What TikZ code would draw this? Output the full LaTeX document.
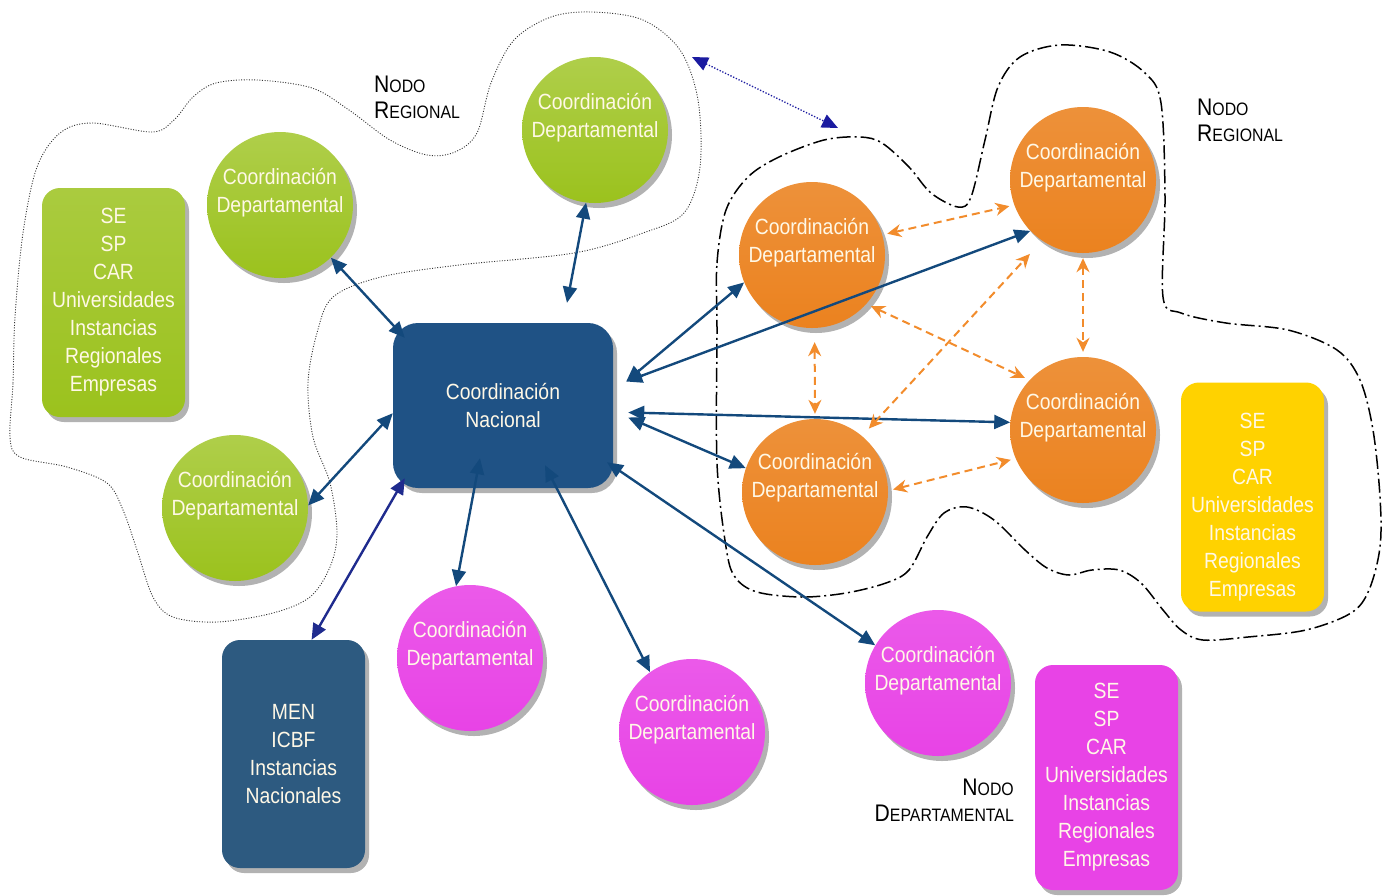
\documentclass[tikz,border=0pt]{standalone}
\usepackage{fontspec}
\setmainfont{Liberation Sans}[FakeStretch=0.88]
\usetikzlibrary{arrows.meta,shadows}

\definecolor{verde}{HTML}{9BC21D}
\definecolor{naranja}{HTML}{EB821F}
\definecolor{fucsia}{HTML}{E843E6}
\definecolor{azul}{HTML}{1F5285}
\definecolor{azulmen}{HTML}{2D5A80}
\definecolor{amarillo}{HTML}{FFD200}
\definecolor{flecha}{HTML}{13497C}
\definecolor{indigo}{HTML}{1F2B8E}
\definecolor{punteada}{HTML}{1B1BA0}
\definecolor{naranjaflecha}{HTML}{F28C2C}
\definecolor{texto}{HTML}{FFF8E6}

\newcommand{\fakesc}[2]{{\fontsize{24}{26}\selectfont #1}{\fontsize{18}{26}\selectfont #2}}

\begin{document}
\begin{tikzpicture}[x=1pt,y=-1pt,
  sombra/.style={drop shadow={shadow xshift=4pt,shadow yshift=-5pt,opacity=0.3,fill=black}},
  circ/.style={circle,minimum size=146pt,inner sep=0pt,sombra},
  gcirc/.style={circ,top color=verde!80!white,bottom color=verde},
  ocirc/.style={circ,top color=naranja!88!white,bottom color=naranja},
  mcirc/.style={circ,top color=fucsia!88!white,bottom color=fucsia},
  ctxt/.style={align=center,text=texto,font=\fontsize{22}{28}\selectfont},
  caja/.style={rounded corners=18pt,minimum width=143pt,minimum height=229pt,sombra,
    align=center,text=texto,font=\fontsize{22}{28}\selectfont},
  nodo/.style={text=black,inner sep=0pt,font=\fontsize{24}{26}\selectfont},
  rel/.style={draw=flecha,line width=2.4pt,
    arrows={Triangle[length=16pt,width=14pt]-Triangle[length=16pt,width=14pt]}},
  relo/.style={draw=naranjaflecha,line width=2pt,dash pattern=on 8pt off 5pt,
    shorten <=5pt,shorten >=5pt,
    arrows={Stealth[length=14pt,width=13pt]-Stealth[length=14pt,width=13pt]}},
  regdot/.style={draw=black!80,line width=0.9pt,dash pattern=on 1pt off 1.6pt},
  regdash/.style={draw=black,line width=1.5pt,dash pattern=on 14pt off 4pt on 2pt off 4pt}]

\useasboundingbox (0,0) rectangle (1392,895);

% Regions
\draw[regdot] plot[smooth cycle,tension=0.55] coordinates {(10,437) (13,383) (15,317) (23,233) (37,167)
  (60,133) (92,123) (152,132) (174,120) (193,97) (216,83) (257,80) (312,88) (349,110) (390,140)
  (427,155) (455,152) (477,133) (491,83) (514,40) (551,17) (592,12) (643,20) (680,50) (698,100)
  (700,167) (684,213) (643,233) (574,253) (459,265) (381,277) (333,297) (317,333) (308,383)
  (313,437) (330,483) (337,533) (330,567) (310,597) (273,613) (217,622) (173,617) (153,597)
  (137,550) (123,510) (107,483) (67,467) (20,457)};
\draw[regdash] plot[smooth cycle,tension=0.55] coordinates {(717,330) (717,263) (726,210) (748,177)
  (779,157) (824,140) (860,137) (882,143) (909,167) (931,193) (958,207) (971,197) (985,140)
  (998,87) (1020,57) (1060,45) (1110,52) (1145,73) (1161,103) (1165,197) (1163,297) (1181,313)
  (1226,323) (1288,330) (1337,350) (1360,380) (1373,430) (1380,497) (1380,547) (1369,590)
  (1351,613) (1306,630) (1248,637) (1203,640) (1181,630) (1163,610) (1141,583) (1119,570)
  (1092,570) (1069,575) (1047,568) (1025,550) (994,520) (967,507) (944,513) (927,537) (909,570)
  (886,583) (846,593) (802,597) (757,592) (735,577) (726,547) (717,463)};

% Boxes
\node[caja,top color=verde!85!white,bottom color=verde] (verdebox) at (113.5,302.5)
  {SE\\SP\\CAR\\Universidades\\Instancias\\Regionales\\Empresas};
\node[caja,fill=amarillo] (amabox) at (1252.5,497) {};
\node[ctxt] (amat) at ([yshift=-10pt]amabox.center)
  {SE\\SP\\CAR\\Universidades\\Instancias\\Regionales\\Empresas};
\node[caja,fill=fucsia,minimum height=225pt] (fucbox) at (1106.5,777.5)
  {SE\\SP\\CAR\\Universidades\\Instancias\\Regionales\\Empresas};
\node[caja,fill=azulmen,minimum height=228pt] (men) at (293.5,754)
  {MEN\\ICBF\\Instancias\\Nacionales};
\node[caja,fill=azul,rounded corners=25pt,minimum width=220pt,minimum height=165pt] (nac)
  at (503,405.5) {Coordinación\\Nacional};

% Circles
\node[gcirc] (g1) at (280,205) {};
\node[gcirc] (g2) at (595,130) {};
\node[gcirc] (g3) at (235,508) {};
\node[ocirc] (o1) at (812,255) {};
\node[ocirc] (o2) at (1083,180) {};
\node[ocirc] (o3) at (1083,430) {};
\node[ocirc] (o4) at (815,492) {};
\node[mcirc] (m1) at (470,658) {};
\node[mcirc] (m2) at (692,732) {};
\node[mcirc] (m3) at (938,683) {};

\node[ctxt] (g1t) at ([yshift=12pt]g1.center) {Coordinación\\Departamental};
\node[ctxt] (g2t) at ([yshift=12pt]g2.center) {Coordinación\\Departamental};
\node[ctxt] (g3t) at ([yshift=12pt]g3.center) {Coordinación\\Departamental};
\node[ctxt] (o1t) at ([yshift=12pt]o1.center) {Coordinación\\Departamental};
\node[ctxt] (o2t) at ([yshift=12pt]o2.center) {Coordinación\\Departamental};
\node[ctxt] (o3t) at ([yshift=12pt]o3.center) {Coordinación\\Departamental};
\node[ctxt] (o4t) at ([yshift=14pt]o4.center) {Coordinación\\Departamental};
\node[ctxt] (m1t) at ([yshift=12pt]m1.center) {Coordinación\\Departamental};
\node[ctxt] (m2t) at ([yshift=12pt]m2.center) {Coordinación\\Departamental};
\node[ctxt] (m3t) at ([yshift=12pt]m3.center) {Coordinación\\Departamental};

% Labels
\node[nodo,align=left,anchor=west] (reg1) at (374,97) {\fakesc{N}{ODO}\\\fakesc{R}{EGIONAL}};
\node[nodo,align=left,anchor=west] (reg2) at (1197,120) {\fakesc{N}{ODO}\\\fakesc{R}{EGIONAL}};
\node[nodo,align=right,anchor=east] (dep) at (1014,800) {\fakesc{N}{ODO}\\\fakesc{D}{EPARTAMENTAL}};

% Links to national
\draw[rel] (g1.-46) -- ([xshift=12pt,yshift=-15pt]nac.north west);
\draw[rel] (g2.-97) -- ([xshift=64pt,yshift=20pt]nac.north);
\draw[rel] (g3.2) -- (nac.184);
\draw[rel,draw=indigo] (men.81) -- ([xshift=12pt,yshift=10pt]nac.south west);
\draw[rel] (m1.101) -- ([xshift=-23pt,yshift=30pt]nac.south);
\draw[rel] (m2.125) -- ([xshift=42pt,yshift=23pt]nac.south);
\draw[rel] (m3.149) -- ([xshift=104pt,yshift=26pt]nac.south);
\draw[rel] (o1.202) -- ([xshift=13pt,yshift=24pt]nac.east);
\draw[rel] (o2.224) -- ([xshift=13pt,yshift=24pt]nac.east);
\draw[rel] (o3.174) -- ([xshift=15pt,yshift=-7pt]nac.east);
\draw[rel] (o4.161) -- ([xshift=15pt,yshift=-12pt]nac.east);

% Links between regions
\coordinate (da) at (692,57);
\coordinate (db) at (838,128);
\draw[draw=punteada,line width=1.3pt,dash pattern=on 1.3pt off 1.7pt,
  arrows={Triangle[length=16pt,width=14pt]-Triangle[length=16pt,width=14pt]}] (da) -- (db);

% Orange links
\draw[relo] (o1.16) -- (o2.200);
\draw[relo,shorten <=14pt] (o1.-88) -- (o4.90);
\draw[relo] (o1.-42) -- (o3.137);
\draw[relo,shorten <=10pt,shorten >=18pt] (o4.50) -- (o2.236);
\draw[relo] (o4.1) -- (o3.203);
\draw[relo] (o2.-90) -- (o3.90);

\end{tikzpicture}
\end{document}
